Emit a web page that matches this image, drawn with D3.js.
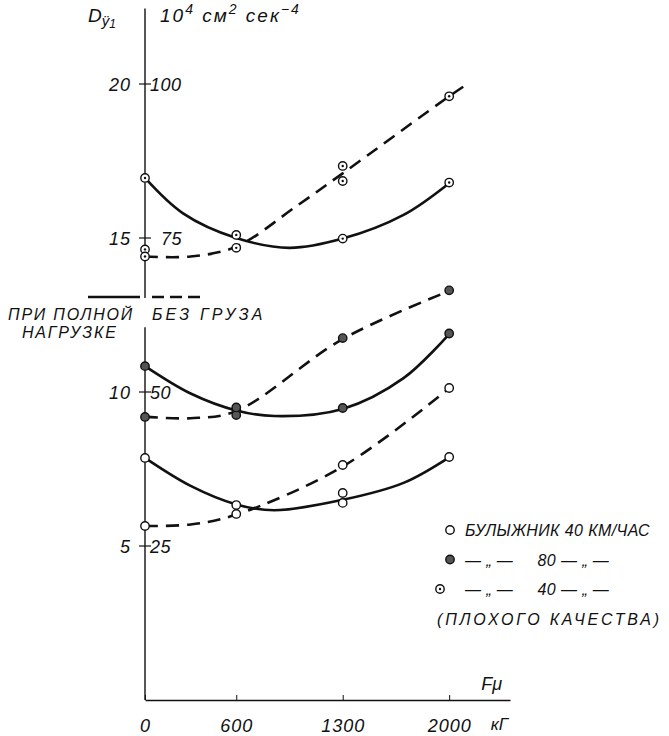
<!DOCTYPE html>
<html>
<head>
<meta charset="utf-8">
<script src="https://cdn.jsdelivr.net/npm/d3@7"></script>
<style>
  body { margin: 0; background: #fff; }
  svg text { font-family: 'Liberation Sans', 'DejaVu Sans', sans-serif; font-style: italic; fill: #111; }
</style>
</head>
<body>
<div id="chart"></div>
<script>
// load on the wheel, kG
const loads = [0, 600, 1300, 2000]
// left scale and the second (x5) scale on the right of the axis
const dTicks = [5, 10, 15, 20]
const dTicksRight = [25, 50, 75, 100]

// measured points [F, D]
const poorFullPts = [[0, 16.95], [600, 15.1], [1300, 14.98], [2000, 16.8]]
const poorEmptyPts = [[0, 14.63], [0, 14.4], [600, 14.68], [1300, 17.34], [1300, 16.85], [2000, 19.6]]
const fastFullPts = [[0, 10.84], [600, 9.42], [1300, 9.48], [2000, 11.9]]
const fastEmptyPts = [[0, 9.19], [600, 9.25], [600, 9.5], [1300, 11.75], [2000, 13.3]]
const slowFullPts = [[0, 7.86], [600, 6.33], [1300, 6.72], [1300, 6.4], [2000, 7.89]]
const slowEmptyPts = [[0, 5.65], [600, 6.04], [1300, 7.63], [2000, 10.13]]

// faired curves drawn through the points
const poorFullCurve = [[0, 16.95], [250, 15.8], [600, 15.0], [950, 14.68], [1300, 14.98], [1700, 15.75], [2000, 16.78]]
const poorEmptyCurve = [[0, 14.4], [300, 14.4], [600, 14.72], [1000, 16.05], [1300, 17.1], [2000, 19.6], [2120, 20.0]]
const fastFullCurve = [[0, 10.84], [300, 9.95], [600, 9.4], [850, 9.22], [1300, 9.45], [1700, 10.45], [2000, 11.88]]
const fastEmptyCurve = [[0, 9.2], [300, 9.15], [600, 9.38], [1300, 11.72], [2000, 13.28]]
const slowFullCurve = [[0, 7.86], [300, 6.95], [600, 6.35], [850, 6.16], [1300, 6.5], [1700, 7.05], [2000, 7.88]]
const slowEmptyCurve = [[0, 5.65], [300, 5.7], [600, 6.02], [1300, 7.58], [2000, 10.12]]

const width = 669
const height = 736

const svg = d3.select('#chart').append('svg').attr('width', width).attr('height', height)

const x = d3.scaleLinear().domain([0, 2400]).range([145, 510])
const y = d3.scaleLinear().domain([0, 20]).range([700, 84])

// vertical axis, broken where the load legend crosses it
svg.append('line').attr('x1', x(0)).attr('x2', x(0)).attr('y1', y(22.45)).attr('y2', y(13.05))
  .attr('stroke', '#111').attr('stroke-width', 1.4)
svg.append('line').attr('x1', x(0)).attr('x2', x(0)).attr('y1', y(12.1)).attr('y2', y(0))
  .attr('stroke', '#111').attr('stroke-width', 1.4)

// y ticks and the two columns of labels
dTicks.forEach((d, i) => {
  svg.append('line').attr('x1', x(0) - 6).attr('x2', x(0) + 6).attr('y1', y(d)).attr('y2', y(d))
    .attr('stroke', '#111').attr('stroke-width', 1.2)
  svg.append('text').attr('x', x(0) - 14).attr('y', y(d) + 7).attr('text-anchor', 'end')
    .style('font-size', '18px').style('letter-spacing', '1px').text(d)
  svg.append('text').attr('x', x(0) + (d == 15 ? 16 : 5)).attr('y', y(d) + 7)
    .style('font-size', '18px').style('letter-spacing', '0.5px').text(dTicksRight[i])
})

// x axis
const xAxis = svg.append('g').attr('transform', `translate(0,${y(0)})`)
  .call(d3.axisBottom(x).tickValues(loads).tickSizeInner(-5).tickSizeOuter(0).tickPadding(19).tickFormat(d3.format('d')))
xAxis.select('.domain').attr('stroke', '#111').attr('stroke-width', 1.6)
xAxis.selectAll('.tick line').attr('stroke', '#111')
xAxis.selectAll('.tick text').attr('font-size', null).style('font-size', '18px')
  .style('font-family', null).style('letter-spacing', '1px').attr('fill', '#111')
svg.append('text').attr('x', x(2330)).attr('y', 730).attr('text-anchor', 'middle')
  .style('font-size', '17px').text('кГ')
svg.append('text').attr('x', x(2280)).attr('y', 690).attr('text-anchor', 'middle')
  .style('font-size', '18px').text('Fμ')

// axis titles
const t1 = svg.append('text').attr('x', 88).attr('y', 22).style('font-size', '19px')
t1.append('tspan').text('D')
t1.append('tspan').attr('dy', 4).style('font-size', '15px').text('ÿ')
t1.append('tspan').attr('dy', 2).style('font-size', '12px').text('1')
const t2 = svg.append('text').attr('x', 160).attr('y', 22).style('font-size', '19px').style('letter-spacing', '2px')
t2.append('tspan').text('10')
t2.append('tspan').attr('dy', -8).style('font-size', '14px').text('4')
t2.append('tspan').attr('dy', 8).text(' см')
t2.append('tspan').attr('dy', -8).style('font-size', '14px').text('2')
t2.append('tspan').attr('dy', 8).text(' сек')
t2.append('tspan').attr('dy', -8).style('font-size', '14px').text('−4')

// curves
const line = d3.line().x((d) => x(d[0])).y((d) => y(d[1])).curve(d3.curveCatmullRom.alpha(0.5))
const curves = [
  [poorFullCurve, false], [poorEmptyCurve, true],
  [fastFullCurve, false], [fastEmptyCurve, true],
  [slowFullCurve, false], [slowEmptyCurve, true],
]
curves.forEach(([c, dashed]) => {
  svg.append('path').datum(c).attr('d', line).attr('fill', 'none')
    .attr('stroke', '#111').attr('stroke-width', 2.6)
    .attr('stroke-dasharray', dashed ? '13 8' : null)
})

// point markers
function drawPoints(pts, kind) {
  const g = svg.append('g')
  g.selectAll('circle.m').data(pts).join('circle')
    .attr('cx', (d) => x(d[0])).attr('cy', (d) => y(d[1])).attr('r', 4.2)
    .attr('fill', kind == 'filled' ? '#555' : '#fff').attr('stroke', '#111').attr('stroke-width', 1.4)
  if (kind == 'dotted') {
    g.selectAll('circle.dot').data(pts).join('circle').attr('class', 'dot')
      .attr('cx', (d) => x(d[0])).attr('cy', (d) => y(d[1])).attr('r', 1.2).attr('fill', '#111')
  }
}
drawPoints(poorFullPts, 'dotted')
drawPoints(poorEmptyPts, 'dotted')
drawPoints(fastFullPts, 'filled')
drawPoints(fastEmptyPts, 'filled')
drawPoints(slowFullPts, 'open')
drawPoints(slowEmptyPts, 'open')

// load legend (solid = full load, dashed = empty)
svg.append('line').attr('x1', 88).attr('x2', 140).attr('y1', 297).attr('y2', 297)
  .attr('stroke', '#111').attr('stroke-width', 2.6)
svg.append('line').attr('x1', 152).attr('x2', 202).attr('y1', 297).attr('y2', 297)
  .attr('stroke', '#111').attr('stroke-width', 2.6).attr('stroke-dasharray', '12 6')
svg.append('text').attr('x', 8).attr('y', 320).style('font-size', '16px').style('letter-spacing', '1.8px').text('ПРИ ПОЛНОЙ')
svg.append('text').attr('x', 22).attr('y', 338).style('font-size', '16px').style('letter-spacing', '1.8px').text('НАГРУЗКЕ')
svg.append('text').attr('x', 152).attr('y', 320).style('font-size', '16px').style('letter-spacing', '3.2px').text('БЕЗ ГРУЗА')

// marker legend
const legendRows = [
  { kind: 'open', mx: 450, text: 'БУЛЫЖНИК 40 КМ/ЧАС' },
  { kind: 'filled', mx: 450, text: '— „ —     80 — „ —' },
  { kind: 'dotted', mx: 440, text: '— „ —     40 — „ —' },
]
legendRows.forEach((r, i) => {
  const cy = 530 + i * 29.5
  svg.append('circle').attr('cx', r.mx).attr('cy', cy).attr('r', 4.2)
    .attr('fill', r.kind == 'filled' ? '#555' : '#fff').attr('stroke', '#111').attr('stroke-width', 1.4)
  if (r.kind == 'dotted') svg.append('circle').attr('cx', r.mx).attr('cy', cy).attr('r', 1.2).attr('fill', '#111')
  svg.append('text').attr('x', 465).attr('y', cy + 6).style('font-size', '16px').style('letter-spacing', '0.4px')
    .attr('xml:space', 'preserve').text(r.text)
})
svg.append('text').attr('x', 437).attr('y', 625).style('font-size', '16px').style('letter-spacing', '2.8px')
  .text('(ПЛОХОГО КАЧЕСТВА)')
</script>
</body>
</html>
